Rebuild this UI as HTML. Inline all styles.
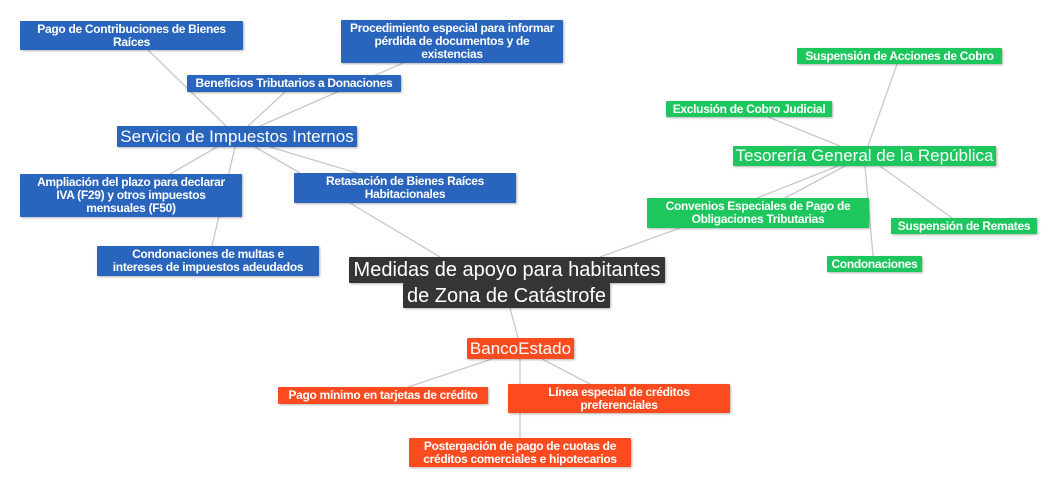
<!DOCTYPE html>
<html><head><meta charset="utf-8"><style>
body{margin:0;width:1057px;height:487px;background:#fff;position:relative;overflow:hidden;font-family:"Liberation Sans",Arial,sans-serif}
.n{position:absolute;color:#fff;text-align:center;font-size:12px;line-height:13px;font-weight:bold;box-sizing:border-box;display:flex;align-items:center;justify-content:center;box-shadow:1px 1px 2px rgba(0,0,0,.3);border-radius:1px;padding:0;white-space:nowrap;letter-spacing:-0.3px}
.b{background:#2965bd}.g{background:#1ec75e}.o{background:#fb4b1f}.d{background:#353535;font-size:20px;line-height:24px;font-weight:normal;letter-spacing:0}
.big{font-size:17px;line-height:20px;font-weight:normal;letter-spacing:0}
svg{position:absolute;left:0;top:0}
</style></head><body>
<svg width="1057" height="487"><g stroke="#c8c8c8" stroke-width="1.3">
<line x1="148" y1="50" x2="226" y2="126"/>
<line x1="403" y1="63" x2="260" y2="126"/>
<line x1="285" y1="92" x2="248" y2="126"/>
<line x1="217" y1="147" x2="170" y2="174"/>
<line x1="235" y1="147" x2="212" y2="246"/>
<line x1="255" y1="147" x2="300" y2="173"/>
<line x1="270" y1="147" x2="357" y2="173"/>
<line x1="350" y1="203" x2="440" y2="257"/>
<line x1="510" y1="308" x2="518" y2="338"/>
<line x1="492" y1="359" x2="408" y2="387"/>
<line x1="520" y1="359" x2="520" y2="438"/>
<line x1="542" y1="359" x2="590" y2="384"/>
<line x1="868" y1="146" x2="897" y2="64"/>
<line x1="768" y1="117" x2="840" y2="146"/>
<line x1="838" y1="166" x2="757" y2="198"/>
<line x1="845" y1="166" x2="785" y2="198"/>
<line x1="865" y1="166" x2="873" y2="256"/>
<line x1="880" y1="166" x2="952" y2="218"/>
<line x1="680" y1="228" x2="600" y2="257"/>
</g></svg>
<div class="n b" style="left:20px;top:21px;width:223px;height:29px">Pago de Contribuciones de Bienes<br>Raíces</div>
<div class="n b" style="left:341px;top:20px;width:222px;height:43px">Procedimiento especial para informar<br>pérdida de documentos y de<br>existencias</div>
<div class="n b" style="left:187px;top:75px;width:214px;height:17px">Beneficios Tributarios a Donaciones</div>
<div class="n b big" style="left:117px;top:126px;width:240px;height:21px">Servicio de Impuestos Internos</div>
<div class="n b" style="left:20px;top:174px;width:222px;height:43px">Ampliación del plazo para declarar<br>IVA (F29) y otros impuestos<br>mensuales (F50)</div>
<div class="n b" style="left:294px;top:173px;width:222px;height:30px">Retasación de Bienes Raíces<br>Habitacionales</div>
<div class="n b" style="left:97px;top:246px;width:222px;height:30px">Condonaciones de multas e<br>intereses de impuestos adeudados</div>
<div class="n d" style="left:349px;top:257px;width:316px;height:26px">Medidas de apoyo para habitantes</div>
<div class="n d" style="left:403px;top:283px;width:207px;height:25px">de Zona de Catástrofe</div>
<div class="n o big" style="left:467px;top:338px;width:107px;height:21px">BancoEstado</div>
<div class="n o" style="left:278px;top:387px;width:210px;height:17px">Pago mínimo en tarjetas de crédito</div>
<div class="n o" style="left:508px;top:384px;width:222px;height:29px">Línea especial de créditos<br>preferenciales</div>
<div class="n o" style="left:409px;top:438px;width:222px;height:29px">Postergación de pago de cuotas de<br>créditos comerciales e hipotecarios</div>
<div class="n g" style="left:797px;top:48px;width:205px;height:16px">Suspensión de Acciones de Cobro</div>
<div class="n g" style="left:666px;top:101px;width:166px;height:16px">Exclusión de Cobro Judicial</div>
<div class="n g big" style="left:733px;top:146px;width:263px;height:20px">Tesorería General de la República</div>
<div class="n g" style="left:647px;top:198px;width:222px;height:30px">Convenios Especiales de Pago de<br>Obligaciones Tributarias</div>
<div class="n g" style="left:891px;top:218px;width:146px;height:16px">Suspensión de Remates</div>
<div class="n g" style="left:827px;top:256px;width:95px;height:16px">Condonaciones</div>
</body></html>
